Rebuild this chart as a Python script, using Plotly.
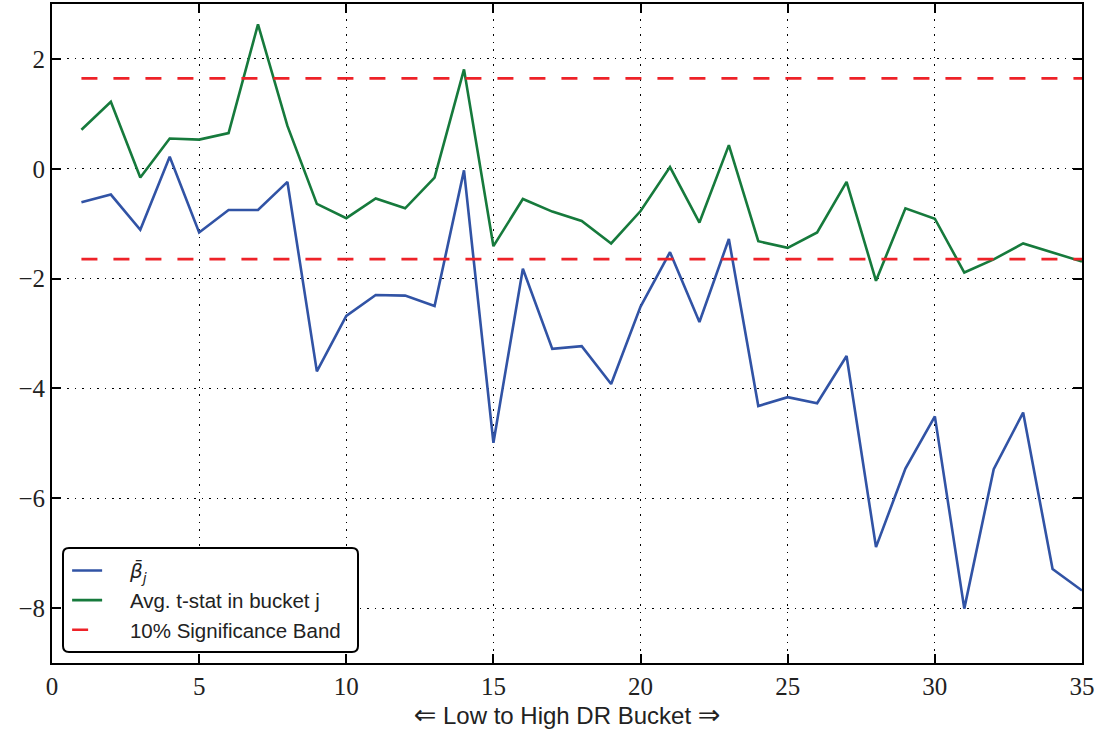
import plotly.graph_objects as go

buckets = list(range(1, 36))
beta_bar = [-0.61, -0.47, -1.11, 0.22, -1.16, -0.75, -0.75, -0.24, -3.69, -2.68,
            -2.30, -2.31, -2.50, -0.03, -4.99, -1.82, -3.28, -3.23, -3.92, -2.51,
            -1.52, -2.79, -1.28, -4.32, -4.16, -4.27, -3.41, -6.89, -5.46, -4.51,
            -8.01, -5.47, -4.44, -7.29, -7.68]
t_stat = [0.71, 1.22, -0.16, 0.55, 0.53, 0.65, 2.63, 0.78, -0.64, -0.90,
          -0.54, -0.72, -0.16, 1.81, -1.41, -0.55, -0.78, -0.95, -1.36, -0.77,
          0.03, -0.98, 0.43, -1.32, -1.44, -1.16, -0.24, -2.04, -0.72, -0.91,
          -1.89, -1.65, -1.36, -1.53, -1.69]
sig_band = 1.645
x_ticks = [0, 5, 10, 15, 20, 25, 30, 35]
y_ticks = [-8, -6, -4, -2, 0, 2]

BLUE = "#3153a5"
GREEN = "#167a3c"
RED = "#ee2228"
SP = "\u00a0\u00a0\u00a0\u00a0"

fig = go.Figure()
fig.add_trace(go.Scatter(x=buckets, y=beta_bar, mode="lines",
                         line=dict(color=BLUE, width=2.6),
                         name=SP + "<span style='font-family:DejaVu Sans;font-size:20px'><i>β\u0304</i><sub><i>j</i></sub></span>"))
fig.add_trace(go.Scatter(x=buckets, y=t_stat, mode="lines",
                         line=dict(color=GREEN, width=2.6),
                         name=SP + "Avg. t-stat in bucket j"))
fig.add_trace(go.Scatter(x=[buckets[0], buckets[-1]], y=[sig_band, sig_band], mode="lines",
                         line=dict(color=RED, width=2.6, dash="16px,16px"),
                         name=SP + "10% Significance Band"))
fig.add_trace(go.Scatter(x=[buckets[0], buckets[-1]], y=[-sig_band, -sig_band], mode="lines",
                         line=dict(color=RED, width=2.6, dash="16px,16px"),
                         showlegend=False))

W, H = 1101, 730
ml, mr, mt, mb = 52, 19, 4, 67
pw, ph = W - ml - mr, H - mt - mb
lx0, lx1, ly0, ly1 = 63, 358, 548, 652
px = lambda v: (v - ml) / pw
py = lambda v: (H - mb - v) / ph
x0, x1, y0, y1 = px(lx0), px(lx1), py(ly1), py(ly0)
rx, ry = 6 / pw, 6 / ph
path = (f"M {x0+rx},{y0} L {x1-rx},{y0} Q {x1},{y0} {x1},{y0+ry} "
        f"L {x1},{y1-ry} Q {x1},{y1} {x1-rx},{y1} L {x0+rx},{y1} "
        f"Q {x0},{y1} {x0},{y1-ry} L {x0},{y0+ry} Q {x0},{y0} {x0+rx},{y0} Z")

axis_common = dict(showline=True, linecolor="black", linewidth=2, mirror="allticks",
                   ticks="inside", ticklen=9, tickwidth=1.5, tickcolor="black",
                   showgrid=True, gridcolor="black", gridwidth=1, griddash="1.5px,6px",
                   zeroline=False, automargin=False,
                   tickfont=dict(family="Liberation Serif, DejaVu Serif, serif", size=25, color="#222"))

ARROW = "<span style='font-family:DejaVu Sans;font-size:27px'>{}</span>"
x_title = ARROW.format("⇐") + " Low to High DR Bucket " + ARROW.format("⇒")

fig.update_layout(
    width=W, height=H,
    margin=dict(l=ml, r=mr, t=mt, b=mb),
    plot_bgcolor="white", paper_bgcolor="white",
    xaxis=dict(range=[0, 35], tickvals=x_ticks, **axis_common,
               title=dict(text=x_title, standoff=6,
                          font=dict(family="Liberation Sans, DejaVu Sans, sans-serif", size=24, color="#222"))),
    yaxis=dict(range=[-9, 3], tickvals=y_ticks, **axis_common),
    legend=dict(x=x0 + 0.004, y=y1 - 0.004, xanchor="left", yanchor="top",
                bgcolor="rgba(0,0,0,0)", borderwidth=0,
                font=dict(family="Liberation Sans, DejaVu Sans, sans-serif", size=20.5, color="#222")),
    shapes=[dict(type="path", path=path, xref="paper", yref="paper",
                 line=dict(color="black", width=2), fillcolor="white", layer="above")],
    showlegend=True,
)

fig.write_html("out.html", config={"displayModeBar": False},
               post_script="document.body.style.margin='0';document.body.style.overflow='hidden';")
